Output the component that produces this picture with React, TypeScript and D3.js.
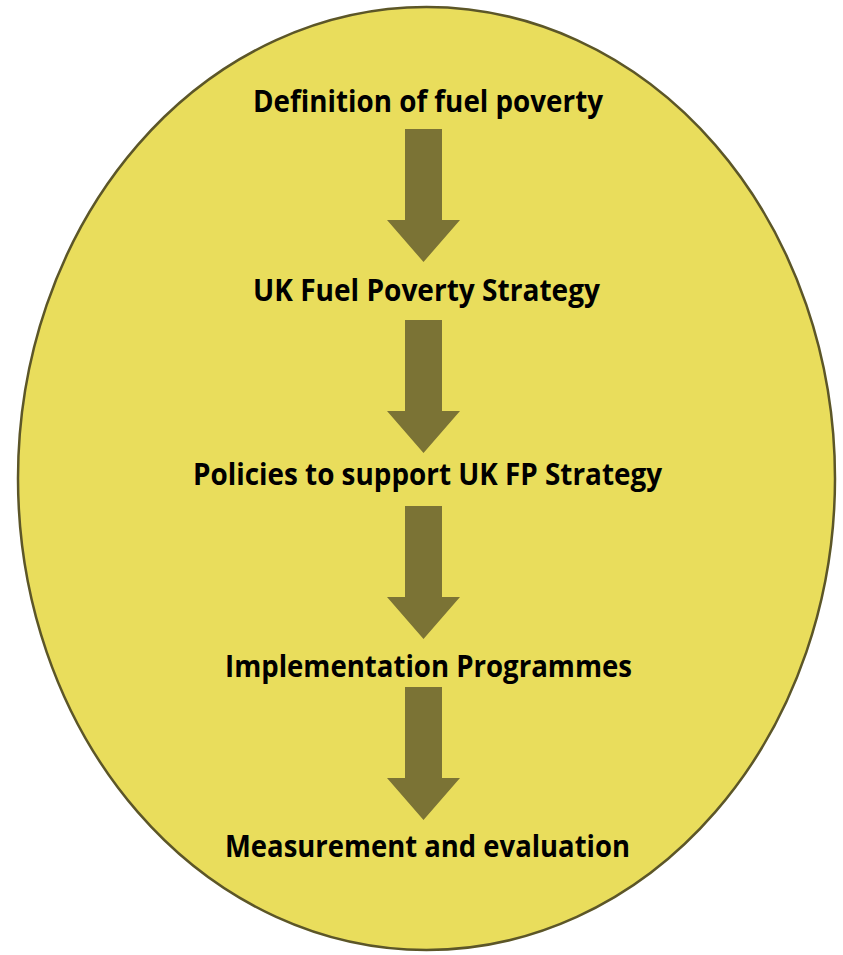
import { useEffect, useRef } from 'react';
import * as d3 from 'd3';

// flow steps, top to bottom
const steps = [
  'Definition of fuel poverty',
  'UK Fuel Poverty Strategy',
  'Policies to support UK FP Strategy',
  'Implementation Programmes',
  'Measurement and evaluation',
];

// measured layout of the labels (baseline y, left x, right x)
const baselines = [112, 301, 485, 677, 857];
const textLeft = [253, 253, 193, 225, 225];
const textRight = [603, 600, 662, 632, 630];

// top of each connecting arrow
const arrowTops = [129, 320, 506, 687];

export default function App() {
  const ref = useRef<SVGSVGElement>(null);

  useEffect(() => {
    const width = 843;
    const height = 955;
    const svg = d3.select(ref.current).attr('width', width).attr('height', height);
    svg.selectAll('*').remove();

    svg.append('ellipse')
      .attr('cx', 426.5)
      .attr('cy', 478.5)
      .attr('rx', 408.5)
      .attr('ry', 471.5)
      .attr('fill', '#e9dd5c')
      .attr('stroke', '#5c5628')
      .attr('stroke-width', 2.5);

    const cx = 423.5;
    const shaftW = 37;
    const headW = 73;
    const shaftLen = 91;
    const headLen = 42;

    const arrowPath = (top: number) => {
      const p = d3.path();
      p.moveTo(cx - shaftW / 2, top);
      p.lineTo(cx + shaftW / 2, top);
      p.lineTo(cx + shaftW / 2, top + shaftLen);
      p.lineTo(cx + headW / 2, top + shaftLen);
      p.lineTo(cx, top + shaftLen + headLen);
      p.lineTo(cx - headW / 2, top + shaftLen);
      p.lineTo(cx - shaftW / 2, top + shaftLen);
      p.closePath();
      return p.toString();
    };

    svg.selectAll('path.arrow')
      .data(arrowTops)
      .join('path')
      .attr('class', 'arrow')
      .attr('d', (d) => arrowPath(d))
      .attr('fill', '#7b7335');

    svg.selectAll('text.step')
      .data(steps)
      .join('text')
      .attr('class', 'step')
      .attr('x', (_, i) => textLeft[i])
      .attr('y', (_, i) => baselines[i])
      .attr('textLength', (_, i) => textRight[i] - textLeft[i])
      .attr('lengthAdjust', 'spacingAndGlyphs')
      .attr('font-family', "'Liberation Sans Narrow', 'Open Sans', sans-serif")
      .attr('font-weight', 'bold')
      .attr('font-size', 31)
      .attr('fill', '#000')
      .text((d) => d);
  }, []);

  return (
    <svg ref={ref} style={{ position: 'absolute', left: 0, top: 0, display: 'block' }}></svg>
  );
}
